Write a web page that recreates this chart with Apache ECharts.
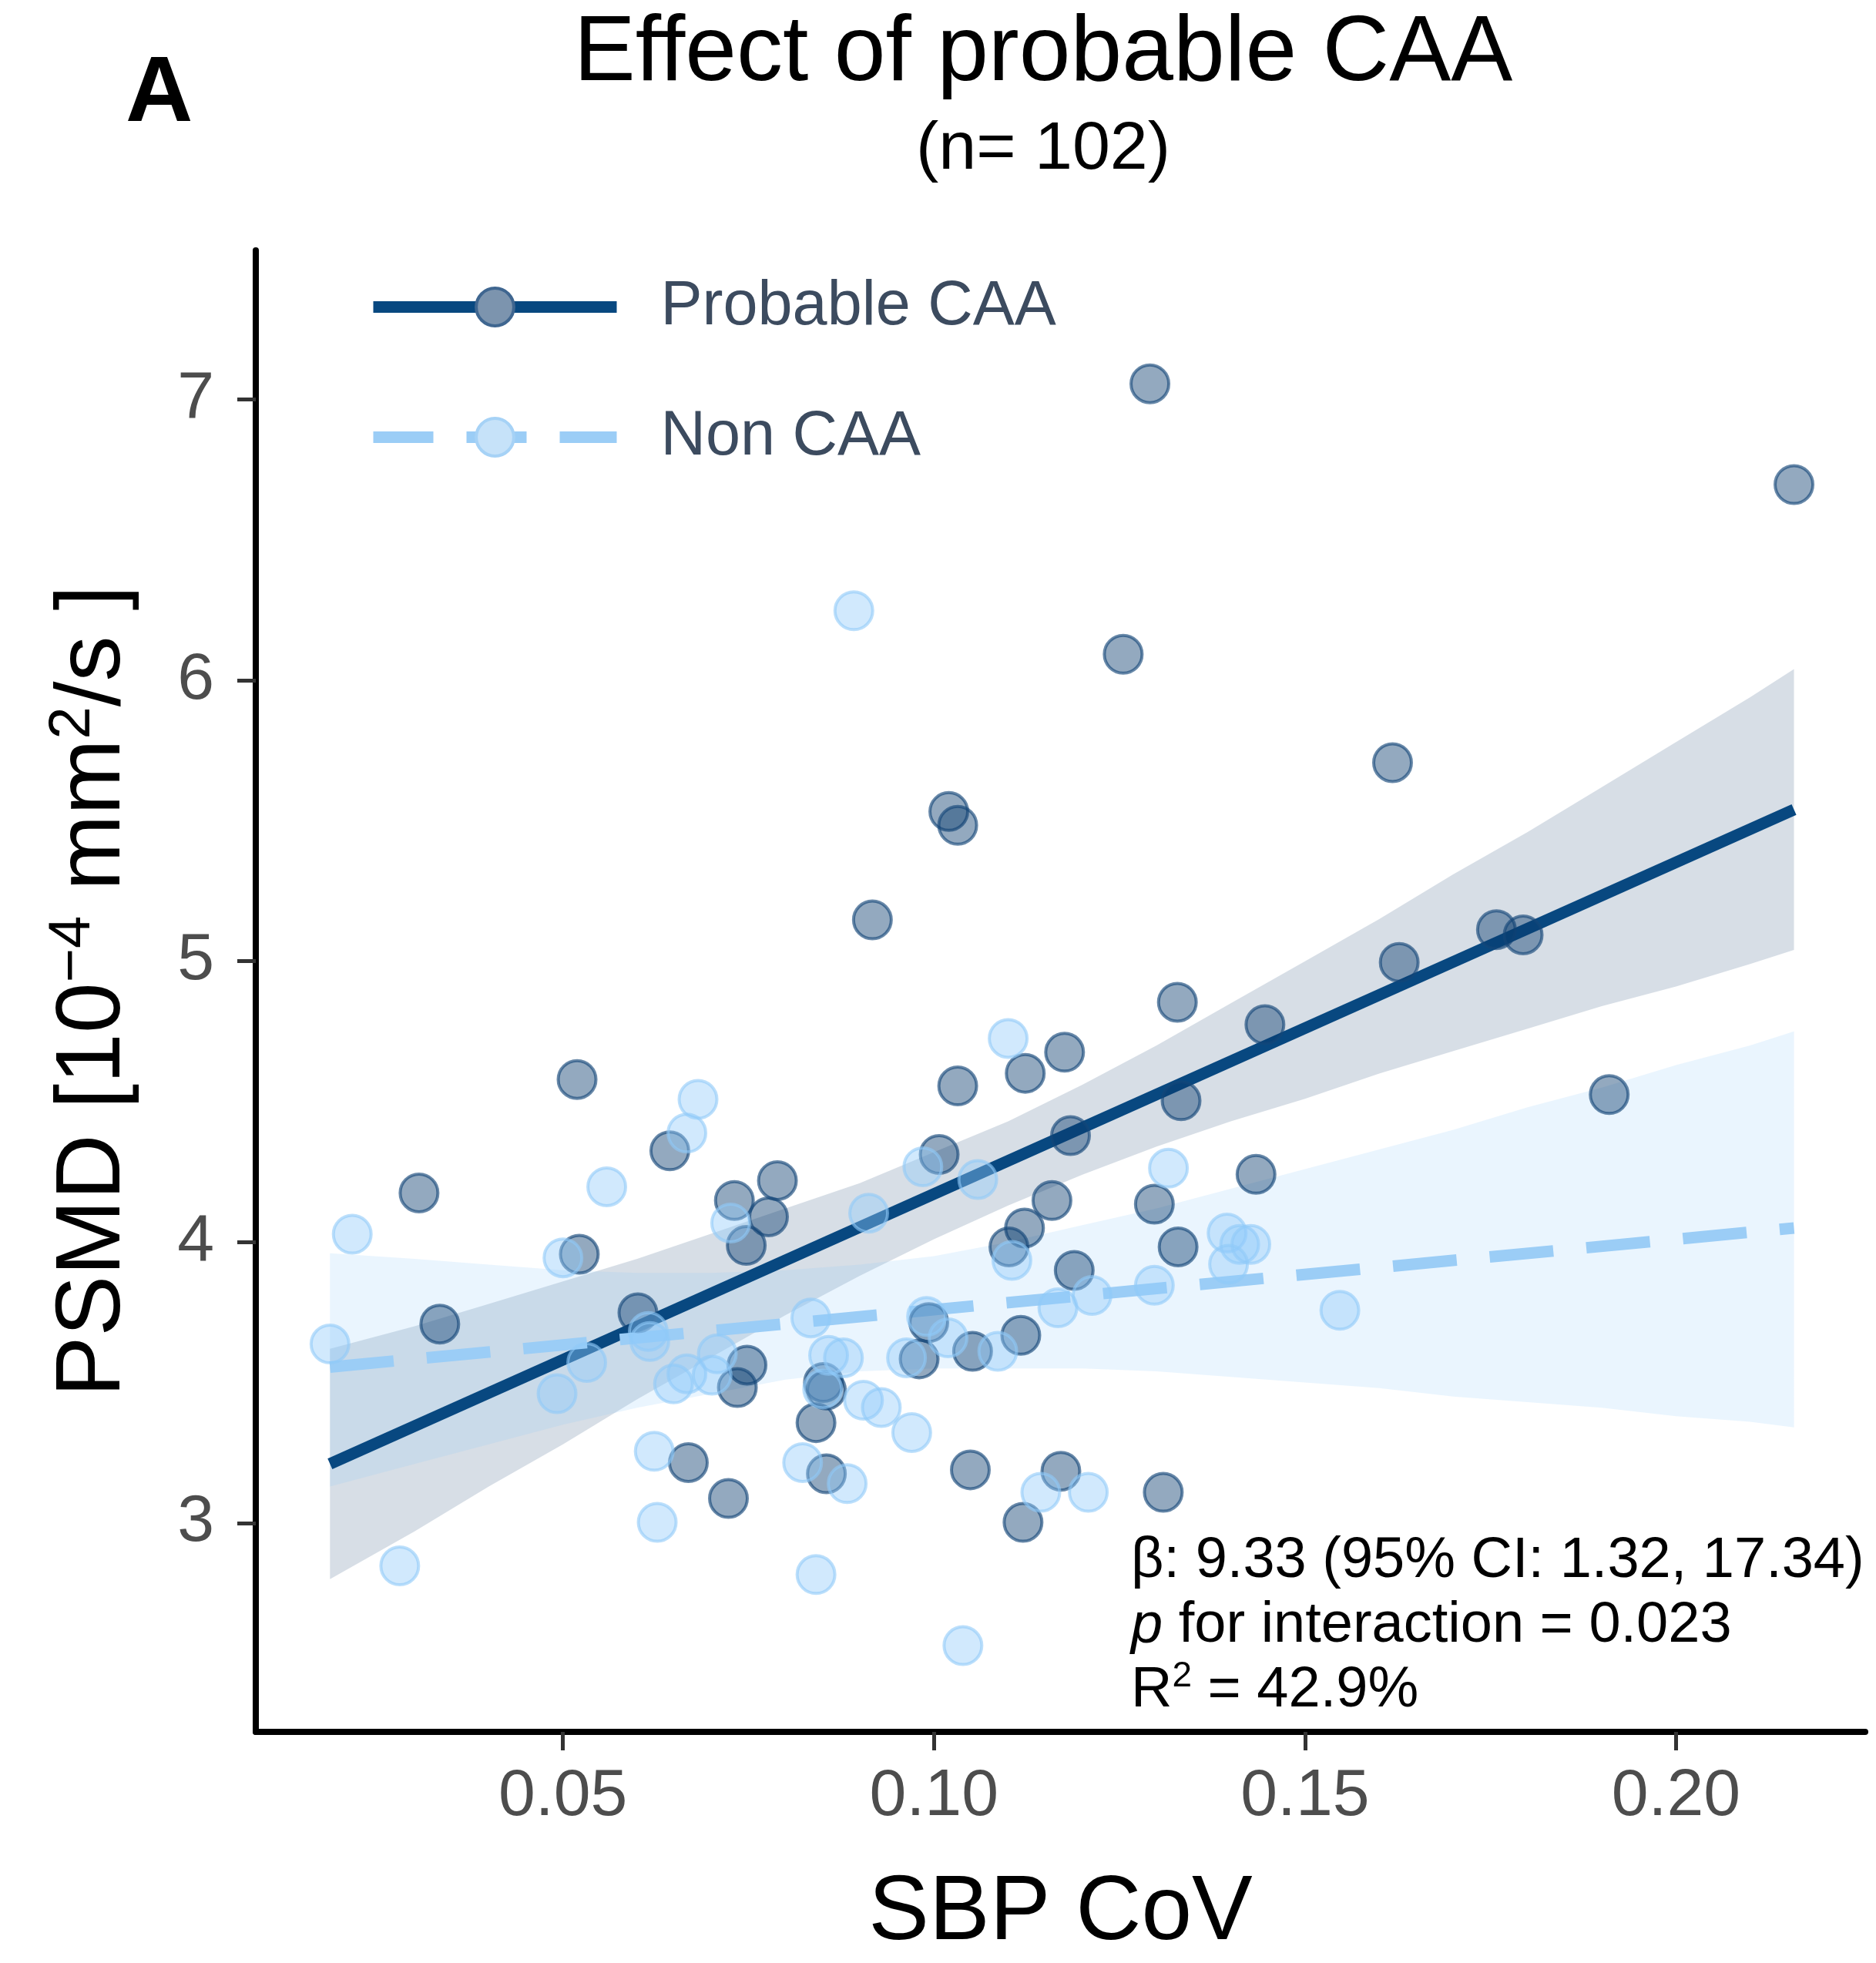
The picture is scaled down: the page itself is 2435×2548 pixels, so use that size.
<!DOCTYPE html>
<html><head><meta charset="utf-8">
<script src="https://cdn.jsdelivr.net/npm/echarts@6/dist/echarts.min.js"></script>
<style>html,body{margin:0;padding:0;background:#fff}#chart{width:2435px;height:2548px}</style>
</head><body><div id="chart"></div>
<script>
// ---------- data ----------
const caaX = [0.1291,0.2159,0.1255,0.1618,0.1020,0.1032,0.0917,0.1758,0.1794,0.1627,
  0.1328,0.1446,0.1176,0.1123,0.0519,0.1032,0.1910,0.1333,0.1184,0.0644,
  0.1007,0.0789,0.1434,0.0306,0.0731,0.1159,0.1297,0.0777,0.1122,0.0747,
  0.1101,0.0522,0.1329,0.1189,0.0601,0.0334,0.0993,0.1117,0.1052,0.0980,
  0.0748,0.0735,0.0851,0.0855,0.0841,0.0669,0.1049,0.1171,0.0855,0.0723,
  0.1309,0.1120];
const caaY = [7.056,6.697,6.093,5.707,5.533,5.484,5.147,5.112,5.094,4.996,
  4.854,4.774,4.676,4.601,4.579,4.556,4.525,4.503,4.379,4.325,
  4.312,4.219,4.241,4.175,4.148,4.148,4.135,4.090,4.050,3.988,
  3.983,3.957,3.983,3.899,3.748,3.708,3.713,3.668,3.611,3.584,
  3.562,3.482,3.500,3.473,3.357,3.215,3.189,3.184,3.175,3.087,
  3.109,3.002];
const nonX = [0.0892,0.1100,0.0682,0.0667,0.0559,0.0985,0.1059,0.1316,0.0216,0.0912,
  0.1395,0.1412,0.1427,0.0500,0.1105,0.1397,0.1297,0.1167,0.1213,0.1547,
  0.0834,0.0615,0.0186,0.0617,0.0708,0.0532,0.0858,0.0878,0.0963,0.1086,
  0.0667,0.0701,0.0649,0.0850,0.0492,0.0905,0.0929,0.0970,0.0623,0.0823,
  0.0883,0.1144,0.1208,0.0627,0.0280,0.0841,0.1039,0.0726,0.1019,0.0990];
const nonY = [6.248,4.725,4.508,4.388,4.197,4.268,4.223,4.263,4.028,4.103,
  4.032,3.992,3.992,3.944,3.935,3.921,3.846,3.766,3.810,3.757,
  3.730,3.682,3.637,3.646,3.602,3.571,3.597,3.588,3.588,3.611,
  3.531,3.526,3.495,3.477,3.460,3.437,3.411,3.322,3.255,3.215,
  3.140,3.109,3.109,3.002,2.847,2.816,2.563,4.068,3.659,3.735];

const fitX = [0.0186, 0.2159];
const caaFitY = [3.21, 5.54];
const nonFitY = [3.555, 4.05];

const bandX    = [0.0186,0.03,0.04,0.05,0.06,0.07,0.08,0.09,0.10,0.11,0.12,0.13,0.14,0.15,0.16,0.17,0.18,0.19,0.20,0.21,0.2159];
const caaLower = [2.80,2.97,3.13,3.28,3.44,3.59,3.74,3.88,4.01,4.13,4.24,4.34,4.43,4.51,4.60,4.68,4.76,4.84,4.91,4.99,5.04];
const caaUpper = [3.62,3.70,3.78,3.86,3.94,4.03,4.12,4.21,4.32,4.43,4.56,4.70,4.85,5.00,5.15,5.31,5.46,5.62,5.78,5.94,6.04];
const nonLower = [3.13,3.21,3.28,3.35,3.41,3.46,3.51,3.54,3.55,3.55,3.55,3.54,3.52,3.50,3.48,3.45,3.43,3.41,3.38,3.36,3.34];
const nonUpper = [3.96,3.94,3.92,3.90,3.89,3.89,3.90,3.92,3.95,4.00,4.06,4.12,4.19,4.26,4.33,4.40,4.48,4.55,4.63,4.70,4.75];

const xTicks = [0.05, 0.10, 0.15, 0.20];
const yTicks = [3, 4, 5, 6, 7];

// ---------- chart ----------
const FONT = "'Liberation Sans', Arial, Helvetica, sans-serif";
const chart = echarts.init(document.getElementById('chart'), null, {renderer: 'canvas'});

function bandSeries(name, lower, upper, color, z) {
  return {
    type: 'custom', name: name, silent: true, z: z, clip: false,
    data: bandX.map((x, i) => [x, lower[i], upper[i]]),
    encode: {x: 0, y: [1, 2]},
    renderItem: function (params, api) {
      if (params.dataIndex !== 0) return null;
      const pts = [];
      for (let i = 0; i < bandX.length; i++) pts.push(api.coord([bandX[i], upper[i]]));
      for (let i = bandX.length - 1; i >= 0; i--) pts.push(api.coord([bandX[i], lower[i]]));
      return {type: 'polygon', shape: {points: pts}, style: {fill: color}};
    }
  };
}

const option = {
  animation: false,
  backgroundColor: '#ffffff',
  grid: {left: 332, right: 14, top: 325, bottom: 292, containLabel: false},
  xAxis: {
    type: 'value', min: 0.0086, max: 0.2255,
    name: 'SBP CoV', nameLocation: 'middle', nameGap: 177,
    nameTextStyle: {fontSize: 118, color: '#000', fontFamily: FONT, lineHeight: 118},
    axisLine: {show: true, lineStyle: {color: '#000', width: 8}},
    axisTick: {show: true, length: 24, customValues: xTicks, lineStyle: {color: '#333', width: 5}},
    axisLabel: {customValues: xTicks, formatter: v => v.toFixed(2), fontSize: 86, color: '#4d4d4d',
      fontFamily: FONT, margin: 41, lineHeight: 86},
    splitLine: {show: false}
  },
  yAxis: {
    type: 'value', min: 2.256, max: 7.531,
    name: '{b|PSMD [10}{s|\u22124}{b| mm}{s|2}{b|/s ]}', nameLocation: 'middle', nameGap: 145,
    nameTextStyle: {color: '#000', fontFamily: FONT, fontSize: 118,
      rich: {
        b: {fontSize: 118, lineHeight: 130, fontFamily: FONT, color: '#000'},
        s: {fontSize: 76, lineHeight: 76, verticalAlign: 'top', fontFamily: FONT, color: '#000'}
      }},
    axisLine: {show: true, lineStyle: {color: '#000', width: 8}},
    axisTick: {show: true, length: 24, customValues: yTicks, lineStyle: {color: '#333', width: 5}},
    axisLabel: {customValues: yTicks, formatter: v => String(Math.round(v)), fontSize: 86, color: '#4d4d4d',
      fontFamily: FONT, margin: 54},
    splitLine: {show: false}
  },
  legend: {
    data: [
      {name: 'Probable CAA',
        itemStyle: {color: '#7c94ae', borderColor: '#3f6690', borderWidth: 4, opacity: 1},
        lineStyle: {color: '#084880', width: 15, type: 'solid', cap: 'butt', opacity: 1}},
      {name: 'Non CAA',
        itemStyle: {color: '#c6e2f9', borderColor: '#a6d2f6', borderWidth: 4, opacity: 1},
        lineStyle: {color: '#9bcdf6', width: 15, type: [78, 43], cap: 'butt', opacity: 1}}
    ],
    orient: 'vertical', left: 477, top: 358, padding: 0,
    itemWidth: 316, itemHeight: 61, itemGap: 88, selectedMode: false,
    textStyle: {fontSize: 81, color: '#3c4b5f', fontFamily: FONT, lineHeight: 81, padding: [0, 0, 0, 52]}
  },
  series: [
    bandSeries('bandCAA', caaLower, caaUpper, 'rgba(40,80,120,0.19)', 1),
    bandSeries('bandNon', nonLower, nonUpper, 'rgba(144,202,249,0.19)', 1),
    {
      type: 'line', name: 'Probable CAA', z: 2, silent: true, symbol: 'none',
      data: fitX.map((x, i) => [x, caaFitY[i]]),
      lineStyle: {color: '#084880', width: 15, cap: 'butt'},
      itemStyle: {color: '#084880'}
    },
    {
      type: 'line', name: 'Non CAA', z: 2, silent: true, symbol: 'none',
      data: fitX.map((x, i) => [x, nonFitY[i]]),
      lineStyle: {color: '#9bcdf6', width: 15, type: [83, 43], cap: 'butt'},
      itemStyle: {color: '#9bcdf6'}
    },
    {
      type: 'scatter', name: 'caaPoints', z: 3, silent: true, symbol: 'circle', symbolSize: 49,
      data: caaX.map((x, i) => [x, caaY[i]]),
      itemStyle: {color: 'rgba(10,60,110,0.55)', borderColor: 'rgba(20,70,120,0.8)', borderWidth: 4}
    },
    {
      type: 'scatter', name: 'nonPoints', z: 4, silent: true, symbol: 'circle', symbolSize: 49,
      data: nonX.map((x, i) => [x, nonY[i]]),
      itemStyle: {color: 'rgba(144,202,249,0.52)', borderColor: 'rgba(144,202,249,0.75)', borderWidth: 4}
    }
  ],
  graphic: [
    {type: 'text', x: 163, y: 124, silent: true,
      style: {text: 'A', fontSize: 121, fontWeight: 'bold', fontFamily: FONT, fill: '#000',
        align: 'left', verticalAlign: 'middle', textAlign: 'left', textVerticalAlign: 'middle'}},
    {type: 'text', x: 1354, y: 71, silent: true,
      style: {text: 'Effect of probable CAA', fontSize: 120, fontFamily: FONT, fill: '#000',
        align: 'center', verticalAlign: 'middle', textAlign: 'center', textVerticalAlign: 'middle'}},
    {type: 'text', x: 1354, y: 195, silent: true,
      style: {text: '(n= 102)', fontSize: 88, fontFamily: FONT, fill: '#000',
        align: 'center', verticalAlign: 'middle', textAlign: 'center', textVerticalAlign: 'middle'}},
    {type: 'text', x: 1468, y: 1985, silent: true,
      style: {
        text: '{n|\u03B2: 9.33 (95% CI: 1.32, 17.34)}\n{i|p}{n| for interaction = 0.023}\n{n|R}{s|2}{n| = 42.9%}',
        fontSize: 74, fontFamily: FONT, fill: '#000', lineHeight: 84,
        align: 'left', verticalAlign: 'top', textAlign: 'left', textVerticalAlign: 'top',
        rich: {
          n: {fontSize: 74, lineHeight: 84, fontFamily: FONT, fill: '#000'},
          i: {fontSize: 74, lineHeight: 84, fontStyle: 'italic', fontFamily: FONT, fill: '#000'},
          s: {fontSize: 46, lineHeight: 52, verticalAlign: 'top', fontFamily: FONT, fill: '#000'}
        }
      }}
  ]
};
chart.setOption(option);
</script>
</body></html>
